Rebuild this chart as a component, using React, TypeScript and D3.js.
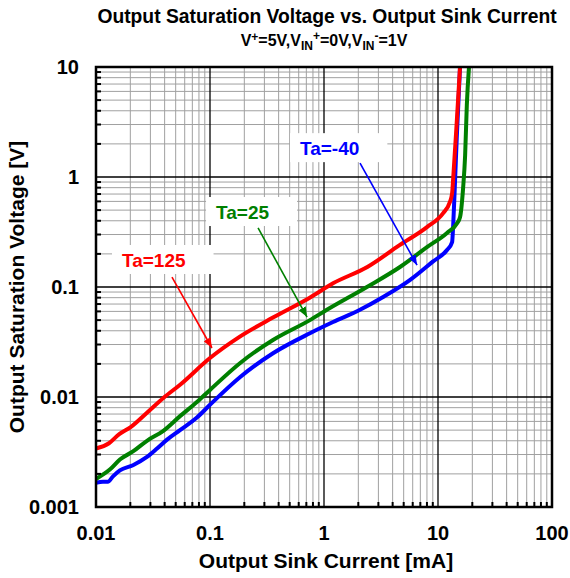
import { useEffect, useRef } from 'react';
import { select, scaleLog, line, curveMonotoneX, range } from 'd3';

const width = 570;
const height = 578;
const margin = { top: 67, right: 18, bottom: 71, left: 96 };

const xTickLabels = ['0.01', '0.1', '1', '10', '100'];
const yTickLabels = ['0.001', '0.01', '0.1', '1', '10'];

// Ta=-40 (blue)
const currentM40 = [0.01, 0.0115, 0.0127, 0.0141, 0.0162, 0.0211, 0.028, 0.0343, 0.042, 0.0546, 0.0768, 0.1, 0.184, 0.357, 0.753, 1.2, 2.07, 3.3, 5.7, 9, 12, 13.3, 13.6, 14.1, 14.6, 15.6];
const voltageM40 = [0.00166, 0.0017, 0.0017, 0.0019, 0.00215, 0.0024, 0.00285, 0.0034, 0.0041, 0.005, 0.0065, 0.0085, 0.0152, 0.025, 0.038, 0.048, 0.062, 0.081, 0.116, 0.17, 0.217, 0.256, 0.37, 0.9, 2.26, 10];

// Ta=25 (green)
const current25 = [0.01, 0.0133, 0.0162, 0.0211, 0.028, 0.0387, 0.0546, 0.0768, 0.1, 0.184, 0.357, 0.753, 1.06, 2.38, 4.64, 8, 12, 14.7, 15.6, 16.6, 17.3, 17.9, 18.7];
const voltage25 = [0.0018, 0.0022, 0.0027, 0.0032, 0.004, 0.0049, 0.0067, 0.009, 0.0116, 0.0204, 0.033, 0.05, 0.062, 0.1, 0.152, 0.23, 0.31, 0.38, 0.43, 0.79, 1.58, 4.5, 10];

// Ta=125 (red)
const current125 = [0.01, 0.013, 0.016, 0.02, 0.028, 0.039, 0.055, 0.1, 0.18, 0.36, 0.75, 1.2, 2.4, 4.6, 8, 11.1, 12.7, 13.3, 13.6, 14.6, 15.6];
const voltage125 = [0.0034, 0.0038, 0.0046, 0.0053, 0.0072, 0.0098, 0.013, 0.0226, 0.035, 0.053, 0.08, 0.108, 0.152, 0.24, 0.35, 0.47, 0.59, 0.71, 0.98, 3.16, 10];

const series = [
  { name: 'Ta=-40', color: '#0000ff', current: currentM40, voltage: voltageM40 },
  { name: 'Ta=25', color: '#008000', current: current25, voltage: voltage25 },
  { name: 'Ta=125', color: '#ff0000', current: current125, voltage: voltage125 },
];

// label anchor, arrow start and arrow tip, in data units
const annotations = [
  { label: 'Ta=-40', color: '#0000ff', text: [0.616, 1.58], from: [2.07, 1.34], to: [6.55, 0.158] },
  { label: 'Ta=25', color: '#008000', text: [0.113, 0.415], from: [0.264, 0.344], to: [0.71, 0.0533] },
  { label: 'Ta=125', color: '#ff0000', text: [0.0169, 0.152], from: [0.0464, 0.123], to: [0.104, 0.0279] },
];

const font = "Arial, 'Liberation Sans', Helvetica, sans-serif";

function App() {
  const ref = useRef(null);

  useEffect(() => {
    const svg = select(ref.current);
    svg.selectAll('*').remove();

    const x = scaleLog().domain([0.01, 100]).range([margin.left, width - margin.right]);
    const y = scaleLog().domain([0.001, 10]).range([height - margin.bottom, margin.top]);
    const [x0, x1] = x.range();
    const [y0, y1] = y.range();

    svg.append('rect').attr('width', width).attr('height', height).attr('fill', '#fff');

    const defs = svg.append('defs');
    series.forEach((s, i) => {
      defs
        .append('marker')
        .attr('id', `arrow${i}`)
        .attr('viewBox', '0 0 10 8')
        .attr('refX', 10)
        .attr('refY', 4)
        .attr('markerUnits', 'userSpaceOnUse')
        .attr('markerWidth', 10)
        .attr('markerHeight', 8)
        .attr('orient', 'auto')
        .append('path')
        .attr('d', 'M0,0 L10,4 L0,8 z')
        .attr('fill', s.color);
    });

    const xMajor = xTickLabels.map(Number);
    const yMajor = yTickLabels.map(Number);
    const xMinor = xMajor.slice(0, -1).flatMap((d) => range(2, 10).map((k) => d * k));
    const yMinor = yMajor.slice(0, -1).flatMap((d) => range(2, 10).map((k) => d * k));

    // minor grid
    const grid = svg.append('g');
    grid
      .selectAll('.vx')
      .data(xMinor)
      .join('line')
      .attr('x1', (d) => x(d))
      .attr('x2', (d) => x(d))
      .attr('y1', y0)
      .attr('y2', y1)
      .attr('stroke', '#a0a0a0')
      .attr('stroke-width', 1);
    grid
      .selectAll('.hy')
      .data(yMinor)
      .join('line')
      .attr('y1', (d) => y(d))
      .attr('y2', (d) => y(d))
      .attr('x1', x0)
      .attr('x2', x1)
      .attr('stroke', '#a0a0a0')
      .attr('stroke-width', 1);

    // major grid
    grid
      .selectAll('.mx')
      .data(xMajor.slice(1, -1))
      .join('line')
      .attr('x1', (d) => x(d))
      .attr('x2', (d) => x(d))
      .attr('y1', y0)
      .attr('y2', y1)
      .attr('stroke', '#000')
      .attr('stroke-width', 1.3);
    grid
      .selectAll('.my')
      .data(yMajor.slice(1, -1))
      .join('line')
      .attr('y1', (d) => y(d))
      .attr('y2', (d) => y(d))
      .attr('x1', x0)
      .attr('x2', x1)
      .attr('stroke', '#000')
      .attr('stroke-width', 1.3);

    // label boxes (under the curves)
    const notes = svg.append('g');
    annotations.forEach((a) => {
      const tx = x(a.text[0]);
      const ty = y(a.text[1]);
      const box = notes.append('rect').attr('fill', '#fff');
      const t = notes
        .append('text')
        .attr('x', tx)
        .attr('y', ty)
        .attr('fill', a.color)
        .attr('font-family', font)
        .attr('font-weight', 'bold')
        .attr('font-size', 19)
        .text(a.label);
      const len = t.node().getComputedTextLength();
      box
        .attr('x', tx - 10)
        .attr('y', ty - 22)
        .attr('width', len + 38)
        .attr('height', 29);
    });

    // curves
    const lineGen = line()
      .x((d) => x(d[0]))
      .y((d) => y(d[1]))
      .curve(curveMonotoneX);
    series.forEach((s) => {
      svg
        .append('path')
        .datum(s.current.map((c, i) => [c, s.voltage[i]]))
        .attr('d', lineGen)
        .attr('fill', 'none')
        .attr('stroke', s.color)
        .attr('stroke-width', 4)
        .attr('stroke-linejoin', 'round');
    });

    // arrows
    annotations.forEach((a) => {
      const idx = series.findIndex((s) => s.name === a.label);
      svg
        .append('line')
        .attr('x1', x(a.from[0]))
        .attr('y1', y(a.from[1]))
        .attr('x2', x(a.to[0]))
        .attr('y2', y(a.to[1]))
        .attr('stroke', a.color)
        .attr('stroke-width', 1.6)
        .attr('marker-end', `url(#arrow${idx})`);
    });

    // minor ticks on left and bottom axes
    svg
      .selectAll('.ty')
      .data(yMinor)
      .join('line')
      .attr('x1', x0)
      .attr('x2', x0 + 5)
      .attr('y1', (d) => y(d))
      .attr('y2', (d) => y(d))
      .attr('stroke', '#000')
      .attr('stroke-width', 2);
    svg
      .selectAll('.tx')
      .data(xMinor)
      .join('line')
      .attr('x1', (d) => x(d))
      .attr('x2', (d) => x(d))
      .attr('y1', y0)
      .attr('y2', y0 - 5)
      .attr('stroke', '#000')
      .attr('stroke-width', 2);

    // plot border
    svg
      .append('rect')
      .attr('x', x0)
      .attr('y', y1)
      .attr('width', x1 - x0)
      .attr('height', y0 - y1)
      .attr('fill', 'none')
      .attr('stroke', '#000')
      .attr('stroke-width', 2.5);

    // tick labels
    svg
      .selectAll('.xl')
      .data(xTickLabels)
      .join('text')
      .attr('x', (d) => x(+d))
      .attr('y', y0 + 33)
      .attr('text-anchor', 'middle')
      .attr('font-family', font)
      .attr('font-weight', 'bold')
      .attr('font-size', 20)
      .text((d) => d);
    svg
      .selectAll('.yl')
      .data(yTickLabels)
      .join('text')
      .attr('x', x0 - 17)
      .attr('y', (d) => y(+d))
      .attr('dy', '0.35em')
      .attr('text-anchor', 'end')
      .attr('font-family', font)
      .attr('font-weight', 'bold')
      .attr('font-size', 20)
      .text((d) => d);

    // axis titles
    svg
      .append('text')
      .attr('x', 326)
      .attr('y', 568)
      .attr('text-anchor', 'middle')
      .attr('font-family', font)
      .attr('font-weight', 'bold')
      .attr('font-size', 21)
      .text('Output Sink Current [mA]');
    svg
      .append('text')
      .attr('transform', `translate(24,${(y0 + y1) / 2}) rotate(-90)`)
      .attr('text-anchor', 'middle')
      .attr('font-family', font)
      .attr('font-weight', 'bold')
      .attr('font-size', 21)
      .text('Output Saturation Voltage [V]');

    // titles
    svg
      .append('text')
      .attr('x', 327)
      .attr('y', 23)
      .attr('text-anchor', 'middle')
      .attr('font-family', font)
      .attr('font-weight', 'bold')
      .attr('font-size', 19.3)
      .text('Output Saturation Voltage vs. Output Sink Current');

    const sub = svg
      .append('text')
      .attr('x', 324)
      .attr('y', 46)
      .attr('text-anchor', 'middle')
      .attr('font-family', font)
      .attr('font-weight', 'bold')
      .attr('font-size', 16);
    const parts = [
      ['V', 0], ['+', -5], ['=5V,V', 5], ['IN', 4], ['+', -10], ['=0V,V', 6],
      ['IN', 4], ['-', -10], ['=1V', 6],
    ];
    parts.forEach(([txt, dy]) => {
      const small = txt === '+' || txt === '-' || txt === 'IN';
      sub
        .append('tspan')
        .attr('dy', dy)
        .attr('font-size', small ? 12 : 16)
        .text(txt);
    });
  }, []);

  return <svg ref={ref} width={width} height={height} style={{ position: 'absolute', left: 0, top: 0 }} />;
}

export default App;
